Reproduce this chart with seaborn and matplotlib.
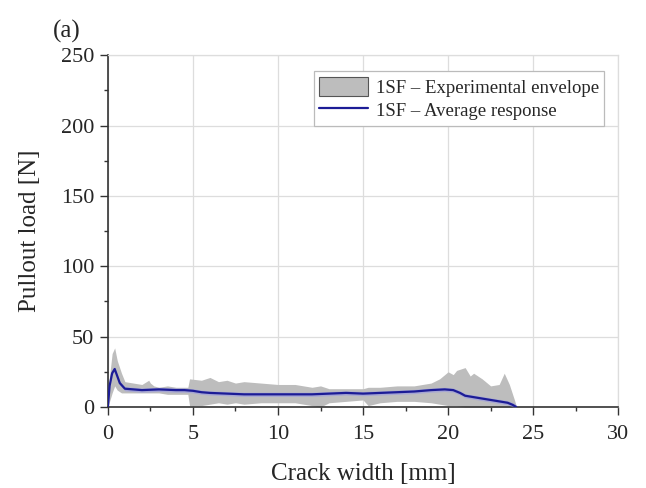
import numpy as np
import pandas as pd
import matplotlib
matplotlib.use("Agg")
import matplotlib.pyplot as plt
import seaborn as sns
from matplotlib.patches import Patch
from matplotlib.lines import Line2D

# Envelope (upper / lower bound) of experimental curves
env_x = [0.0, 0.1, 0.25, 0.4, 0.55, 0.8, 1.0, 1.5, 2.0, 2.4, 2.5, 2.7, 3.0, 3.5, 4.0, 4.7, 4.8, 5.5, 6.0, 6.5,
         7.0, 7.5, 8.0, 9.0, 10.0, 11.0, 12.0, 12.5, 13.0, 14.0, 15.0, 15.3, 16.0, 17.0, 18.0, 19.0, 19.5,
         20.0, 20.3, 20.5, 21.0, 21.3, 21.5, 22.0, 22.5, 23.0, 23.3, 23.6, 23.9, 24.0]
env_upper = [5, 22, 38, 42, 33, 24, 18, 17, 16, 19, 17, 15, 14, 15, 14, 14, 20, 19, 21, 18,
             19, 17, 18, 17, 16, 16, 14, 15, 13, 13, 13, 14, 14, 15, 15, 17, 20,
             25, 23, 26, 28, 22, 24, 20, 15, 16, 24, 16, 5, 1]
env_lower = [0, 4, 10, 15, 12, 10, 10, 10, 10, 10, 10, 10, 10, 9, 9, 9, 1, 1, 2, 3,
             2, 3, 2, 3, 3, 3, 1, 0, 3, 4, 5, 1, 3, 4, 4, 3, 2,
             1, 1, 1, 0, 0, 0, 0, 0, 0, 0, 0, 0, 0]

# Average response
avg_x = [0.0, 0.1, 0.25, 0.4, 0.55, 0.7, 1.0, 1.5, 2.0, 3.0, 4.0, 4.5, 5.0, 5.5, 6.0, 7.0, 8.0, 9.0, 10.0,
         11.0, 12.0, 13.0, 14.0, 15.0, 16.0, 17.0, 18.0, 19.0, 19.8, 20.3, 20.7, 21.0, 22.0, 23.0, 23.5,
         23.8, 24.0]
avg_y = [0, 15, 24, 27, 22, 17, 13, 12.5, 12, 12.5, 12, 12, 11.5, 10.5, 10, 9.5, 9, 9, 9,
         9, 9, 9.5, 10, 9.5, 10, 10.5, 11, 12, 12.5, 12, 10, 8, 6, 4, 3,
         1.5, 0]

x_ticks = [0, 5, 10, 15, 20, 25, 30]
y_ticks = [0, 50, 100, 150, 200, 250]

sns.set_theme(style="white")
plt.rcParams['font.family'] = ['Liberation Serif', 'DejaVu Serif']
plt.rcParams['mathtext.fontset'] = 'stix'

fig = plt.figure(figsize=(6.46, 4.88), dpi=100)
ax = fig.add_axes([0.167, 0.166, 0.79, 0.721])

ax.fill_between(env_x, env_lower, env_upper, color='#bdbdbd', linewidth=0, zorder=2)
avg = np.array(avg_y, dtype=float)
ax.fill_between(avg_x, np.clip(avg - 1.5, 0, None), avg + 1.5, color='#8c8cf0', alpha=0.45,
                linewidth=0, zorder=3)
df = pd.DataFrame({'x': avg_x, 'y': avg_y})
sns.lineplot(data=df, x='x', y='y', ax=ax, color='#1c1c96', linewidth=1.6, zorder=4)

ax.set_xlim(0, 30)
ax.set_ylim(0, 250)
ax.set_xticks(x_ticks)
ax.set_yticks(y_ticks)
ax.set_xticks(np.arange(2.5, 30, 5), minor=True)
ax.set_yticks(np.arange(25, 250, 50), minor=True)
ax.grid(True, which='major', color='#dddddd', linewidth=0.9, zorder=0)
ax.set_axisbelow(True)

for s in ['top', 'right']:
    ax.spines[s].set_color('#dddddd')
    ax.spines[s].set_linewidth(0.9)
for s in ['left', 'bottom']:
    ax.spines[s].set_color('#333333')
    ax.spines[s].set_linewidth(1.2)

ax.tick_params(axis='both', which='major', direction='out', length=6, width=1.0,
               color='#333333', labelsize=16, bottom=True, left=True, pad=4)
ax.tick_params(axis='x', which='major', pad=7)
ax.tick_params(axis='both', which='minor', direction='out', length=3, width=1.0,
               color='#333333', bottom=True, left=True)
ax.tick_params(axis='x', which='both', top=False)
ax.tick_params(axis='y', which='both', right=False)

ax.set_xlabel('Crack width [mm]', fontsize=18, labelpad=14)
ax.set_ylabel('Pullout load [N]', fontsize=18, labelpad=14)

handles = [Patch(facecolor='#bdbdbd', edgecolor='#555555', linewidth=0.8),
           Line2D([0], [0], color='#1c1c96', linewidth=1.6)]
labels = ['1SF – Experimental envelope', '1SF – Average response']
leg = ax.legend(handles, labels, loc='upper right', bbox_to_anchor=(0.98, 0.965), fontsize=13.5,
                frameon=True, fancybox=False, edgecolor='#bbbbbb', framealpha=1,
                handlelength=2.6, handleheight=1.2, borderpad=0.3, labelspacing=0.2,
                handletextpad=0.4, borderaxespad=0.2)
leg.get_frame().set_linewidth(0.9)

fig.text(0.082, 0.936, '(a)', fontsize=18, ha='left', va='center')

fig.savefig('out.png', dpi=100)
